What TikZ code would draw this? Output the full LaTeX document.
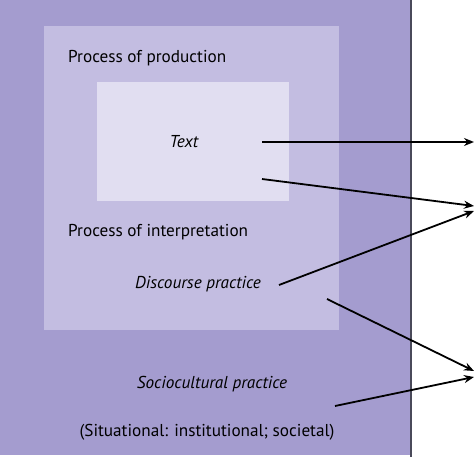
\documentclass[tikz,border=0pt]{standalone}
\usepackage{fontspec}
\setmainfont{PT Sans}
\usetikzlibrary{arrows.meta}
\definecolor{outerc}{HTML}{A49CCF}
\definecolor{midc}{HTML}{C3BDE1}
\definecolor{innerc}{HTML}{E1DEF1}
\definecolor{edgec}{HTML}{4A4A5A}
\begin{document}
\begin{tikzpicture}[x=1pt,y=-1pt,
  lbl/.style={font=\fontsize{17.2}{20}\selectfont, inner sep=0pt, text=black},
  ilbl/.style={lbl, font=\fontsize{17.2}{20}\selectfont\itshape},
  arr/.style={-{Stealth[length=10pt,width=8pt]}, line width=1.8pt, black}]
\useasboundingbox (0,0) rectangle (474,457);
% boxes
\fill[outerc] (0,0) rectangle (411,455);
\draw[edgec, line width=1.2pt] (411,0) -- (411,457);
\fill[midc] (44,26) rectangle (339,330);
\fill[innerc] (97,82) rectangle (289,201);
% labels
\node[lbl, anchor=west] (prod) at (68,58) {Process of production};
\node[ilbl] (text) at (184,142) {Text};
\node[lbl, anchor=west] (interp) at (68,232) {Process of interpretation};
\node[ilbl] (disc) at (198,284) {Discourse practice};
\node[ilbl] (socio) at (212,384) {Sociocultural practice};
\node[lbl] (sit) at (207,432) {(Situational: institutional; societal)};
% arrow endpoints
\coordinate (a1s) at (262,142);
\coordinate (a1e) at (474,142);
\coordinate (a2s) at (262,179);
\coordinate (a2e) at (474,206);
\coordinate (a3s) at (279,285);
\coordinate (a3e) at (474,211);
\coordinate (a4s) at (327,299);
\coordinate (a4e) at (474,371);
\coordinate (a5s) at (335,406);
\coordinate (a5e) at (474,377);
\draw[arr] (a1s) -- (a1e);
\draw[arr] (a2s) -- (a2e);
\draw[arr] (a3s) -- (a3e);
\draw[arr] (a4s) -- (a4e);
\draw[arr] (a5s) -- (a5e);
\end{tikzpicture}
\end{document}
